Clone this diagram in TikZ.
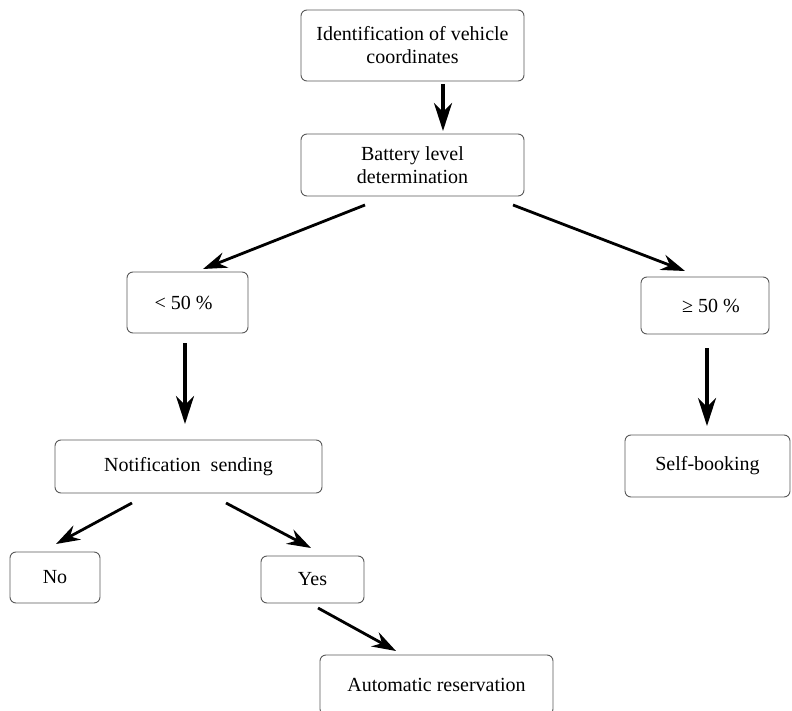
\documentclass[tikz,border=0pt]{standalone}
\usepackage{fontspec}
\setmainfont{Liberation Serif}
\usetikzlibrary{arrows.meta}
\begin{document}
\begin{tikzpicture}[x=1pt,y=-1pt,
  box/.style={draw=black!65,line width=0.9pt,rounded corners=6pt,align=center,inner sep=0pt,font=\fontsize{20}{23}\selectfont},
  arr/.style={line width=2.8pt,-{Stealth[length=24pt,width=16pt,inset=8pt]}},
  varr/.style={line width=3.6pt,-{Stealth[length=28pt,width=18pt,inset=9pt]}}]
\clip (0,0) rectangle (792,711);
\fill[white] (0,0) rectangle (792,711);
\node[box,minimum width=223pt,minimum height=71pt] (n1) at (412.5,45.5) {Identification of vehicle\\coordinates};
\node[box,minimum width=223pt,minimum height=62pt] (n2) at (412.5,165) {Battery level\\determination};
\node[box,minimum width=121pt,minimum height=61pt] (lt) at (187.5,302.5) {< 50 \%\hspace{8pt}};
\node[box,minimum width=128pt,minimum height=57pt] (ge) at (705,305.5) {\hspace{12pt}≥ 50 \%};
\node[box,minimum width=267pt,minimum height=53pt] (notif) at (188.5,466.5) {Notification\ \ sending};
\node[box,minimum width=165pt,minimum height=62pt] (self) at (707.5,466) {Self-booking};
\node[box,minimum width=90pt,minimum height=51pt] (no) at (55,577.5) {No};
\node[box,minimum width=103pt,minimum height=47pt] (yes) at (312.5,579.5) {Yes};
\node[box,minimum width=233pt,minimum height=60pt] (auto) at (436.5,685) {Automatic reservation};
% arrow end points
\coordinate (a1s) at (443,84);  \coordinate (a1e) at (443,131);
\coordinate (a2s) at (365,205); \coordinate (a2e) at (203,269);
\coordinate (a3s) at (513,205); \coordinate (a3e) at (685,271);
\coordinate (a4s) at (185,343); \coordinate (a4e) at (185,424);
\coordinate (a5s) at (707,348); \coordinate (a5e) at (707,426);
\coordinate (a6s) at (132,503); \coordinate (a6e) at (56,544);
\coordinate (a7s) at (226,503); \coordinate (a7e) at (311,548);
\coordinate (a8s) at (318,608); \coordinate (a8e) at (396,651);
\draw[varr] (a1s) -- (a1e);
\draw[arr] (a2s) -- (a2e);
\draw[arr] (a3s) -- (a3e);
\draw[varr] (a4s) -- (a4e);
\draw[varr] (a5s) -- (a5e);
\draw[arr] (a6s) -- (a6e);
\draw[arr] (a7s) -- (a7e);
\draw[arr] (a8s) -- (a8e);
\end{tikzpicture}
\end{document}
